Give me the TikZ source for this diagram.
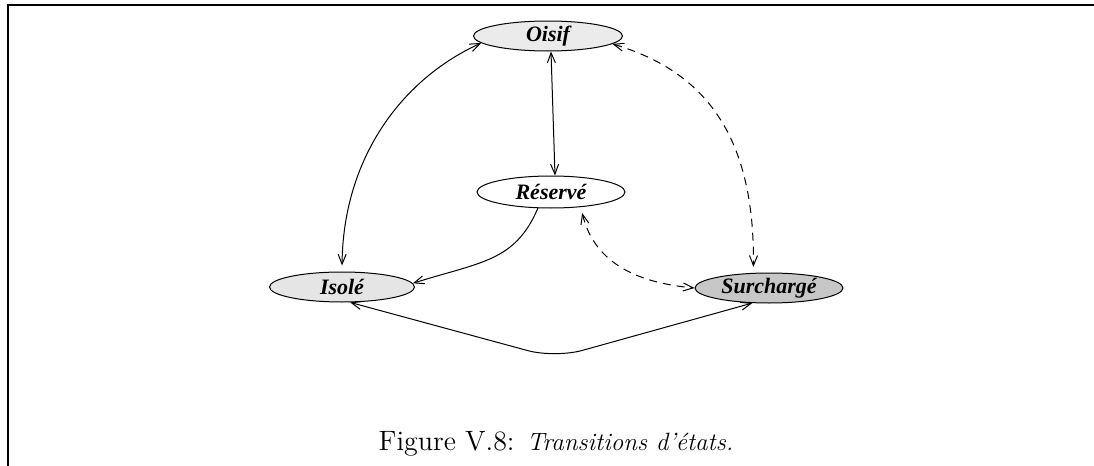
\documentclass[tikz,border=0pt]{standalone}
\usepackage{fontspec}
\usetikzlibrary{shapes.geometric,arrows.meta}
\newfontfamily\etatfont{Liberation Serif}

\begin{document}
\begin{tikzpicture}[x=0.5pt,y=-0.5pt]
        \tikzset{etat/.style={draw,ellipse,minimum height=15pt,inner sep=0pt,line width=0.5pt,
                font=\etatfont\fontsize{11}{13}\selectfont\bfseries\itshape},
            lien/.style={line width=0.5pt},
            pointille/.style={lien,dash pattern=on 4pt off 3pt},
            >={Straight Barb[length=5pt,width=4pt]}}
        \useasboundingbox (0,0) rectangle (1094,466);
        \draw[line width=1pt] (8,466) -- (8,5) -- (1094,5);
        % les etats
        \node[etat,fill=black!8,minimum width=74.5pt] (oisif) at (548,36) {Oisif};
        \node[etat,minimum width=74pt,minimum height=16pt] (reserve) at (551,192) {Réservé};
        \node[etat,fill=black!10,minimum width=72.5pt] (isole) at (342,287) {Isolé};
        \node[etat,fill=black!22,minimum width=74pt] (surcharge) at (769,288) {Surchargé};
        % les transitions
        \draw[lien,<->] ([xshift=1.5pt]oisif.south) -- ([xshift=2pt]reserve.north);
        \draw[lien,<->,shorten >=3pt] (oisif.-174) .. controls (400,80) and (343,160) .. (isole.north);
        \draw[pointille,<->,shorten >=3pt] (oisif.-7) .. controls (700,70) and (755,130) .. (surcharge.136);
        \draw[lien,->] (reserve.-129) .. controls (515,262) and (480,262) .. (isole.3);
        \draw[pointille,<->,shorten <=3pt] (reserve.-27) .. controls (595,265) and (640,283) .. (surcharge.west);
        \draw[lien,<->,rounded corners=14pt] (isole.-62) -- (555,358) -- (surcharge.-138);
        \node[anchor=base,font=\fontsize{14}{16}\selectfont] (legende) at (556,450)
            {Figure V.8: {\fontsize{12.5}{15}\selectfont\itshape Transitions d'états.}};
\end{tikzpicture}
\end{document}
